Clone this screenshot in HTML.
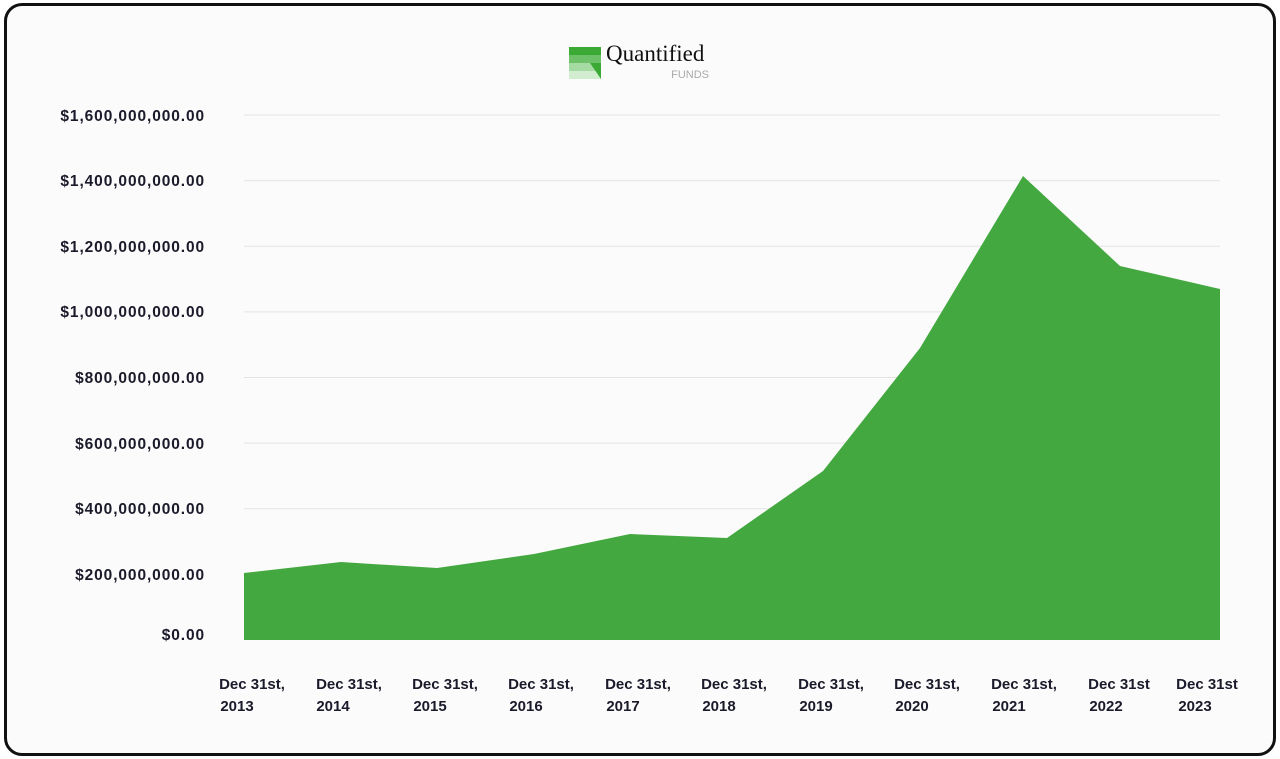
<!DOCTYPE html>
<html><head><style>
body{margin:0;background:#fff;width:1280px;height:759px;overflow:hidden;font-family:"Liberation Sans",sans-serif}
.frame{position:absolute;left:4px;top:3px;width:1266px;height:747px;border:3px solid #111;border-radius:18px;background:#fbfbfb}
</style></head><body>
<div class="frame"></div>
<svg width="1280" height="759" style="position:absolute;left:0;top:0">
<g stroke="#e4e4e4" stroke-width="1">
<line x1="244" x2="1220" y1="115" y2="115"/><line x1="244" x2="1220" y1="180.6" y2="180.6"/>
<line x1="244" x2="1220" y1="246.2" y2="246.2"/><line x1="244" x2="1220" y1="311.9" y2="311.9"/>
<line x1="244" x2="1220" y1="377.5" y2="377.5"/><line x1="244" x2="1220" y1="443.1" y2="443.1"/>
<line x1="244" x2="1220" y1="508.7" y2="508.7"/><line x1="244" x2="1220" y1="574.4" y2="574.4"/>
</g>
<polygon fill="#44a840" points="244,640 244,573 341,562 437,568 534,554 630,534 727,538 823,471 920,348 1023,176 1120,266 1220,289 1220,640"/>
<g font-weight="bold" font-size="15.5" letter-spacing="0.9" fill="#1a1a2a" text-anchor="end">
<text x="205" y="121">$1,600,000,000.00</text><text x="205" y="186">$1,400,000,000.00</text>
<text x="205" y="252">$1,200,000,000.00</text><text x="205" y="317">$1,000,000,000.00</text>
<text x="205" y="383">$800,000,000.00</text><text x="205" y="449">$600,000,000.00</text>
<text x="205" y="514">$400,000,000.00</text><text x="205" y="580">$200,000,000.00</text>
<text x="205" y="640">$0.00</text>
</g>
<g font-weight="bold" font-size="15" fill="#1a1a2a" text-anchor="middle">
<text x="252" y="689">Dec 31st,</text><text x="237" y="711">2013</text>
<text x="349" y="689">Dec 31st,</text><text x="333" y="711">2014</text>
<text x="445" y="689">Dec 31st,</text><text x="430" y="711">2015</text>
<text x="541" y="689">Dec 31st,</text><text x="526" y="711">2016</text>
<text x="638" y="689">Dec 31st,</text><text x="623" y="711">2017</text>
<text x="734" y="689">Dec 31st,</text><text x="719" y="711">2018</text>
<text x="831" y="689">Dec 31st,</text><text x="816" y="711">2019</text>
<text x="927" y="689">Dec 31st,</text><text x="912" y="711">2020</text>
<text x="1024" y="689">Dec 31st,</text><text x="1009" y="711">2021</text>
<text x="1119" y="689">Dec 31st</text><text x="1106" y="711">2022</text>
<text x="1207" y="689">Dec 31st</text><text x="1195" y="711">2023</text>
</g>
<g>
<rect x="569" y="47" width="32" height="8" fill="#3aaa35"/>
<rect x="569" y="55" width="32" height="8" fill="#6cc068"/>
<rect x="569" y="63" width="32" height="8" fill="#a6daa3"/>
<rect x="569" y="71" width="32" height="8" fill="#d2ecd0"/>
<polygon points="590,63 601,63 601,79" fill="#3aaa35"/>
</g>
<text x="606" y="61" font-family="Liberation Serif,serif" font-size="23" fill="#111">Quantified</text>
<text x="709" y="78" font-size="11" fill="#aaa" text-anchor="end">FUNDS</text>
</svg>
</body></html>
